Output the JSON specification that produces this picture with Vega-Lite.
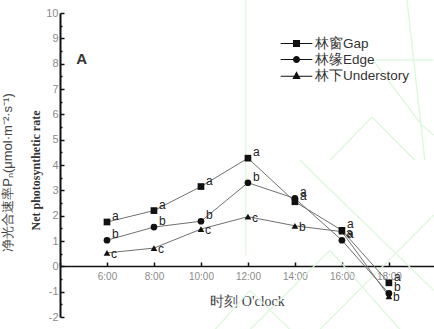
{
  "$schema": "https://vega.github.io/schema/vega-lite/v6.json",
  "width": 374,
  "height": 304,
  "autosize": {"type": "none"},
  "padding": {"left": 60, "top": 13, "right": 0, "bottom": 12},
  "background": "white",
  "config": {
    "view": {"stroke": null},
    "font": "Liberation Sans"
  },
  "datasets": {
    "pn": [
      {"hour": 6, "value": 1.75, "site": "林窗Gap", "sig": "a"},
      {"hour": 8, "value": 2.2, "site": "林窗Gap", "sig": "a"},
      {"hour": 10, "value": 3.15, "site": "林窗Gap", "sig": "a"},
      {"hour": 12, "value": 4.27, "site": "林窗Gap", "sig": "a"},
      {"hour": 14, "value": 2.55, "site": "林窗Gap", "sig": "a"},
      {"hour": 16, "value": 1.42, "site": "林窗Gap", "sig": "a"},
      {"hour": 18, "value": -0.65, "site": "林窗Gap", "sig": "a"},
      {"hour": 6, "value": 1.03, "site": "林缘Edge", "sig": "b"},
      {"hour": 8, "value": 1.55, "site": "林缘Edge", "sig": "b"},
      {"hour": 10, "value": 1.78, "site": "林缘Edge", "sig": "b"},
      {"hour": 12, "value": 3.3, "site": "林缘Edge", "sig": "b"},
      {"hour": 14, "value": 2.68, "site": "林缘Edge", "sig": "a"},
      {"hour": 16, "value": 1.03, "site": "林缘Edge", "sig": "a"},
      {"hour": 18, "value": -1.07, "site": "林缘Edge", "sig": "b"},
      {"hour": 6, "value": 0.53, "site": "林下Understory", "sig": "c"},
      {"hour": 8, "value": 0.72, "site": "林下Understory", "sig": "c"},
      {"hour": 10, "value": 1.47, "site": "林下Understory", "sig": "c"},
      {"hour": 12, "value": 1.96, "site": "林下Understory", "sig": "c"},
      {"hour": 14, "value": 1.6, "site": "林下Understory", "sig": "b"},
      {"hour": 16, "value": 1.37, "site": "林下Understory", "sig": "a"},
      {"hour": 18, "value": -1.18, "site": "林下Understory", "sig": "b"}
    ],
    "strokes": [
      {"hour": 11.91, "value": 10.51, "hour2": 11.91, "value2": 0.43},
      {"hour": 10.6, "value": -2.49, "hour2": 12.09, "value2": -0.95},
      {"hour": 12.09, "value": -0.95, "hour2": 13.79, "value2": -2.49},
      {"hour": 14.21, "value": 4.19, "hour2": 19.91, "value2": -0.95},
      {"hour": 15.06, "value": -2.49, "hour2": 19.91, "value2": 2.02},
      {"hour": 15.49, "value": 4.19, "hour2": 17.28, "value2": 5.89},
      {"hour": 17.28, "value": 5.89, "hour2": 19.11, "value2": 4.19},
      {"hour": 17.32, "value": 8.14, "hour2": 19.91, "value2": 8.14},
      {"hour": 17.32, "value": 8.14, "hour2": 19.4, "value2": 5.57},
      {"hour": 18.77, "value": 10.51, "hour2": 19.53, "value2": 4.19},
      {"hour": 19.4, "value": 5.57, "hour2": 19.91, "value2": 5.18},
      {"hour": 12.09, "value": -2.49, "hour2": 15.49, "value2": 0.63},
      {"hour": 15.49, "value": 0.63, "hour2": 18.47, "value2": -2.49}
    ]
  },
  "resolve": {"axis": {"y": "independent"}, "scale": {"shape": "independent"}},
  "layer": [
    {
      "data": {"name": "strokes"},
      "mark": {"type": "rule", "color": "#dcf7dc", "strokeWidth": 1.3, "clip": false},
      "encoding": {
        "x": {"field": "hour", "type": "quantitative", "scale": {"domain": [4, 19.92], "nice": false, "zero": false}},
        "x2": {"field": "hour2"},
        "y": {"field": "value", "type": "quantitative", "scale": {"domain": [-2, 10], "nice": false}, "axis": null},
        "y2": {"field": "value2"}
      }
    },
    {
      "data": {"name": "pn"},
      "mark": {"type": "line", "color": "#707070", "strokeWidth": 1},
      "encoding": {
        "x": {
          "field": "hour",
          "type": "quantitative",
          "axis": {
            "title": "时刻 O'clock",
            "titleFont": "Liberation Serif",
            "titleFontSize": 14,
            "titleFontWeight": "normal",
            "titleColor": "#444444",
            "titlePadding": 13,
            "offset": -51,
            "values": [4, 5, 6, 7, 8, 9, 10, 11, 12, 13, 14, 15, 16, 17, 18, 19],
            "labelExpr": "datum.value >= 6 && datum.value <= 18 && datum.value % 2 === 0 ? datum.value + ':00' : ''",
            "labelFontSize": 10,
            "labelColor": "#8a8a8a",
            "labelPadding": 9,
            "tickSize": {"condition": {"test": "datum.value % 2 === 1", "value": -2}, "value": -4},
            "tickColor": "#111111",
            "tickWidth": 1.5,
            "domainColor": "#111111",
            "domainWidth": 1.5,
            "grid": false
          }
        },
        "y": {
          "field": "value",
          "type": "quantitative",
          "axis": {
            "title": "Net photosynthetic rate",
            "titleFont": "Liberation Serif",
            "titleFontSize": 12,
            "titleFontWeight": "bold",
            "titleColor": "#333333",
            "titlePadding": 3,
            "titleY": 157,
            "values": [-2, -1.5, -1, -0.5, 0, 0.5, 1, 1.5, 2, 2.5, 3, 3.5, 4, 4.5, 5, 5.5, 6, 6.5, 7, 7.5, 8, 8.5, 9, 9.5, 10],
            "labelExpr": "datum.value % 1 === 0 ? datum.value : ''",
            "labelFontSize": 11,
            "labelColor": "#8a8a8a",
            "labelPadding": 6,
            "tickSize": {"condition": {"test": "datum.value % 1 !== 0", "value": -2}, "value": -4},
            "tickColor": "#111111",
            "tickWidth": 1.5,
            "domainColor": "#111111",
            "domainWidth": 2,
            "grid": false
          }
        },
        "detail": {"field": "site"}
      }
    },
    {
      "data": {"name": "pn"},
      "mark": {"type": "point", "filled": true, "opacity": 1, "color": "#111111", "size": 45},
      "encoding": {
        "x": {"field": "hour", "type": "quantitative"},
        "y": {
          "field": "value",
          "type": "quantitative",
          "axis": {
            "title": "净光合速率Pₙ(μmol·m⁻²·s⁻¹)",
            "titleFont": "Liberation Sans",
            "titleFontSize": 13,
            "titleFontWeight": "normal",
            "titleColor": "#444444",
            "titlePadding": 46,
            "titleY": 159,
            "labels": false,
            "ticks": false,
            "domain": false,
            "grid": false,
            "orient": "left"
          }
        },
        "shape": {
          "field": "site",
          "type": "nominal",
          "scale": {"domain": ["林窗Gap", "林缘Edge", "林下Understory"], "range": ["square", "circle", "triangle-up"]},
          "legend": null
        }
      }
    },
    {
      "data": {"name": "pn"},
      "transform": [{"filter": "false"}],
      "mark": {"type": "point", "filled": true, "fill": "#111111", "size": 200},
      "encoding": {
        "x": {"field": "hour", "type": "quantitative"},
        "y": {"field": "value", "type": "quantitative", "axis": null},
        "shape": {
          "field": "site",
          "type": "nominal",
          "scale": {
            "domain": ["林窗Gap", "林缘Edge", "林下Understory"],
            "range": [
              "M-2.24,-0.08H2.24V0.08H-2.24ZM-0.5,-0.5H0.5V0.5H-0.5Z",
              "M-2.24,-0.08H2.24V0.08H-2.24ZM0.5,0A0.5,0.5 0 1,1 -0.5,0A0.5,0.5 0 1,1 0.5,0Z",
              "M-2.24,0.02H2.24V0.18H-2.24ZM0,-0.6L0.58,0.5H-0.58Z"
            ]
          },
          "legend": {
            "title": null,
            "orient": "none",
            "legendX": 229,
            "legendY": 23,
            "padding": 0,
            "symbolSize": 200,
            "symbolOpacity": 1,
            "symbolFillColor": "#111111",
            "symbolStrokeWidth": 0,
            "labelFontSize": 13.5,
            "labelColor": "#333333",
            "labelOffset": 11,
            "rowPadding": 2
          }
        }
      }
    },
    {
      "data": {"name": "pn"},
      "transform": [{"filter": "datum.site !== '林下Understory'"}],
      "mark": {"type": "text", "align": "left", "baseline": "middle", "dx": 5, "dy": -6, "fontSize": 12, "color": "#222222"},
      "encoding": {
        "x": {"field": "hour", "type": "quantitative"},
        "y": {"field": "value", "type": "quantitative", "axis": null},
        "text": {"field": "sig"}
      }
    },
    {
      "data": {"name": "pn"},
      "transform": [{"filter": "datum.site === '林下Understory'"}],
      "mark": {"type": "text", "align": "left", "baseline": "middle", "dx": 4, "dy": 1, "fontSize": 12, "color": "#222222"},
      "encoding": {
        "x": {"field": "hour", "type": "quantitative"},
        "y": {"field": "value", "type": "quantitative", "axis": null},
        "text": {"field": "sig"}
      }
    },
    {
      "data": {"values": [{"hour": 4.92, "value": 8.18, "tag": "A"}]},
      "mark": {"type": "text", "align": "center", "baseline": "middle", "fontSize": 15, "fontWeight": "bold", "color": "#333333"},
      "encoding": {
        "x": {"field": "hour", "type": "quantitative"},
        "y": {"field": "value", "type": "quantitative", "axis": null},
        "text": {"field": "tag"}
      }
    }
  ]
}
